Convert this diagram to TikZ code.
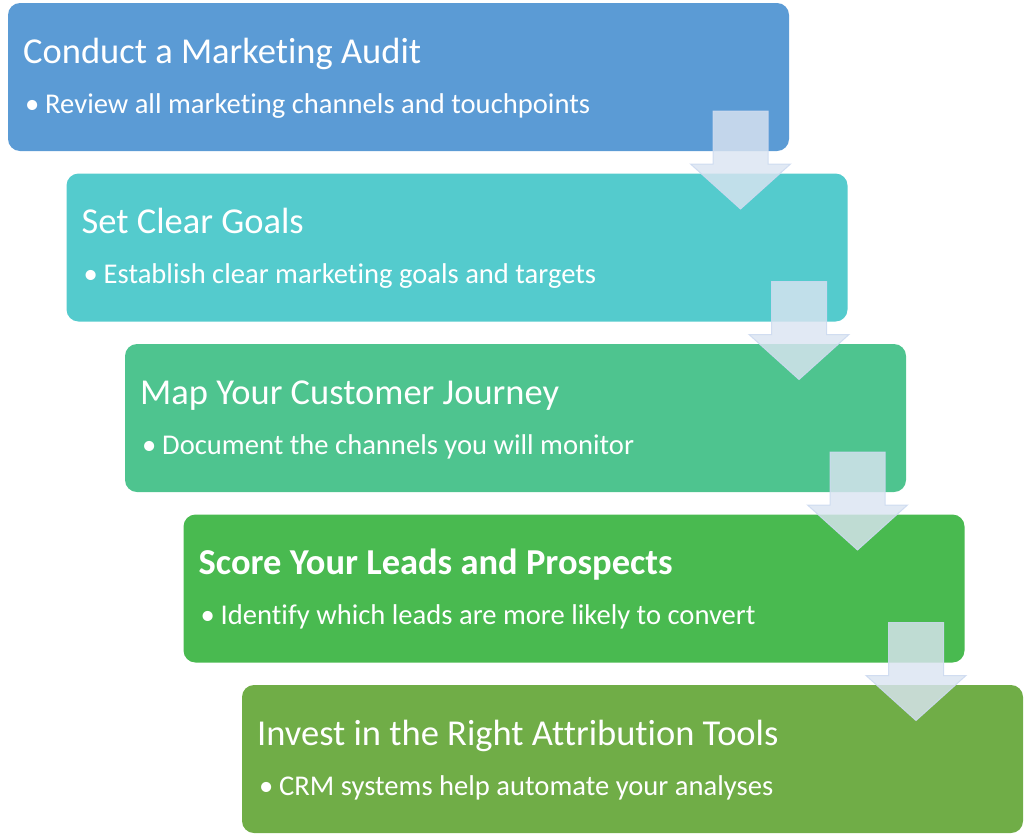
\documentclass[tikz,border=0pt]{standalone}
\usepackage{fontspec}
\setmainfont{Carlito}[Ligatures={NoCommon}]
\usetikzlibrary{calc}
\definecolor{cA}{RGB}{91,155,213}
\definecolor{cB}{RGB}{84,203,205}
\definecolor{cC}{RGB}{78,196,143}
\definecolor{cD}{RGB}{73,186,80}
\definecolor{cE}{RGB}{112,173,71}
\definecolor{arrowc}{RGB}{218,228,241}
\definecolor{arrowline}{RGB}{205,218,240}
\begin{document}
\begin{tikzpicture}[x=1pt,y=-1pt]
\tikzset{
  stepbox/.style={rounded corners=12pt, inner sep=0pt, outer sep=0pt, draw=none,
    minimum width=781pt, minimum height=148pt, anchor=north west},
  ttl/.style={anchor=base west, inner sep=0pt, text=white, font=\fontsize{36.5}{40}\selectfont},
  bul/.style={anchor=base west, inner sep=0pt, text=white, font=\fontsize{28.6}{32}\selectfont},
  arrowshape/.style={fill=arrowc, fill opacity=0.82, draw=arrowline, line width=1pt, draw opacity=0.9}
}
\useasboundingbox (0,0) rectangle (1024,835);
\node[stepbox, fill=cA] (b1) at (8,3) {};
\node[stepbox, fill=cB] (b2) at (66.5,173.5) {};
\node[stepbox, fill=cC] (b3) at (125,344) {};
\node[stepbox, fill=cD] (b4) at (183.5,514.5) {};
\node[stepbox, fill=cE] (b5) at (242,685) {};
\foreach \i in {0,1,2,3}{
  \pgfmathsetmacro{\cx}{740.5+58.5*\i}
  \pgfmathsetmacro{\ty}{111+170.5*\i}
  \path[arrowshape] (\cx-27.5,\ty) -- (\cx+27.5,\ty) -- (\cx+27.5,\ty+53) -- (\cx+50,\ty+53)
     -- (\cx,\ty+98) -- (\cx-50,\ty+53) -- (\cx-27.5,\ty+53) -- cycle;
}
\node[ttl] (t1) at ($(b1.north west)+(15,60)$) {Conduct a Marketing Audit};
\node[bul] (l1) at ($(b1.north west)+(17,110)$) {\makebox[20pt][l]{•}Review all marketing channels and touchpoints};
\node[ttl] (t2) at ($(b2.north west)+(15,60)$) {Set Clear Goals};
\node[bul] (l2) at ($(b2.north west)+(17,110)$) {\makebox[20pt][l]{•}Establish clear marketing goals and targets};
\node[ttl] (t3) at ($(b3.north west)+(15,60)$) {Map Your Customer Journey};
\node[bul] (l3) at ($(b3.north west)+(17,110)$) {\makebox[20pt][l]{•}Document the channels you will monitor};
\node[ttl, font=\fontsize{36.5}{40}\selectfont\bfseries] (t4) at ($(b4.north west)+(15,60)$) {Score Your Leads and Prospects};
\node[bul] (l4) at ($(b4.north west)+(17,110)$) {\makebox[20pt][l]{•}Identify which leads are more likely to convert};
\node[ttl] (t5) at ($(b5.north west)+(15,60)$) {Invest in the Right Attribution Tools};
\node[bul] (l5) at ($(b5.north west)+(17,110)$) {\makebox[20pt][l]{•}CRM systems help automate your analyses};
\end{tikzpicture}
\end{document}
